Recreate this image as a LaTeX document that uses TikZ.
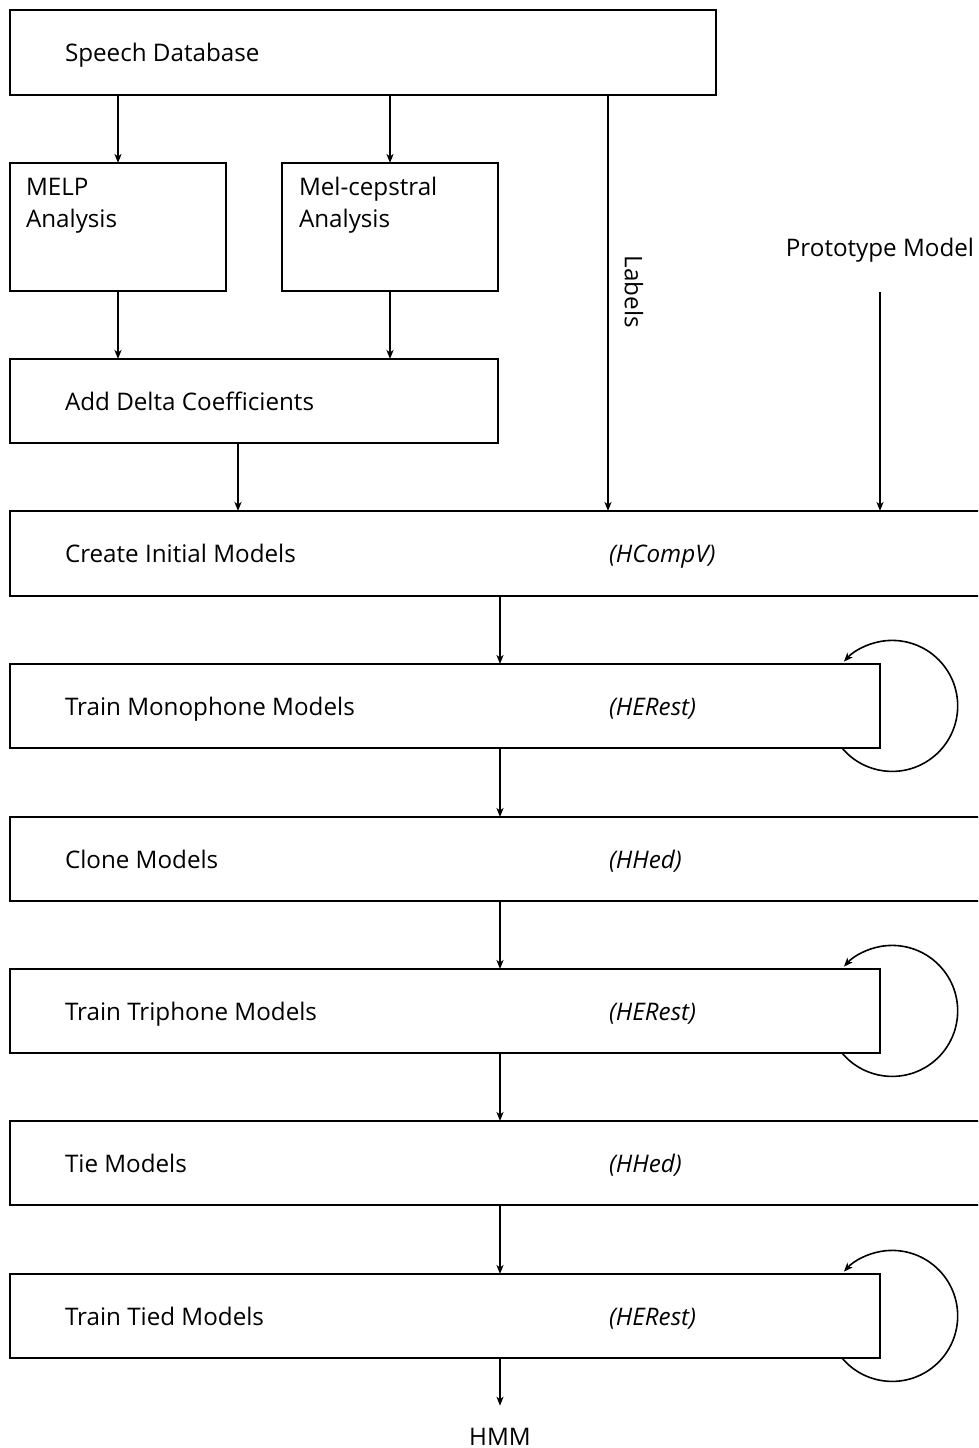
\documentclass[tikz,border=0pt]{standalone}
\usepackage{fontspec}
\setmainfont{Open Sans}
\usetikzlibrary{arrows.meta}
\tikzset{
  box/.style={draw, line width=1.8pt, inner sep=0pt, outer sep=0pt},
  lbl/.style={inner sep=0pt, outer sep=0pt, anchor=base west, font=\fontsize{24.2}{32}\selectfont},
  tool/.style={lbl, font=\fontsize{24.2}{32}\selectfont\itshape},
  arr/.style={line width=1.6pt, -{Stealth[length=9pt, width=7pt, inset=2.5pt]}},
  loop/.style={line width=1.6pt, -{Stealth[length=9pt, width=7pt, inset=2.5pt]}}
}
\begin{document}
\begin{tikzpicture}[x=1pt, y=1pt]
\clip (0,0) rectangle (978,-1448);
\fill[white] (0,0) rectangle (978,-1448);

% boxes
\node[box, minimum width=706pt, minimum height=85pt] (db) at (363,-52.5) {};
\node[box, minimum width=216pt, minimum height=128pt] (melp) at (118,-227) {};
\node[box, minimum width=216pt, minimum height=128pt] (mel) at (390,-227) {};
\node[box, minimum width=488pt, minimum height=84pt] (delta) at (254,-401) {};
\node[box, minimum width=990pt, minimum height=85pt] (init) at (505,-553.5) {};
\node[box, minimum width=870pt, minimum height=84pt] (mono) at (445,-706) {};
\node[box, minimum width=990pt, minimum height=84pt] (clone) at (505,-859) {};
\node[box, minimum width=870pt, minimum height=84pt] (tri) at (445,-1011) {};
\node[box, minimum width=990pt, minimum height=84pt] (tie) at (505,-1163) {};
\node[box, minimum width=870pt, minimum height=84pt] (tied) at (445,-1316) {};

% texts
\node[lbl] (dbt) at (65,-61) {Speech Database};
\node[lbl, align=left] (melpt) at (26,-227) {MELP\\Analysis};
\node[lbl, align=left] (melt) at (299,-227) {Mel-cepstral\\Analysis};
\node[lbl] (deltat) at (65,-410) {Add Delta Coefficients};
\node[lbl] (initt) at (65,-562) {Create Initial Models};
\node[tool] (inith) at (609,-562) {(HCompV)};
\node[lbl] (monot) at (65,-715) {Train Monophone Models};
\node[tool] (monoh) at (609,-715) {(HERest)};
\node[lbl] (clonet) at (65,-868) {Clone Models};
\node[tool] (cloneh) at (609,-868) {(HHed)};
\node[lbl] (trit) at (65,-1020) {Train Triphone Models};
\node[tool] (trih) at (609,-1020) {(HERest)};
\node[lbl] (tiet) at (65,-1172) {Tie Models};
\node[tool] (tieh) at (609,-1172) {(HHed)};
\node[lbl] (tiedt) at (65,-1325) {Train Tied Models};
\node[tool] (tiedh) at (609,-1325) {(HERest)};
\node[lbl, anchor=base] (proto) at (880,-256) {Prototype Model};
\node[lbl, anchor=center, rotate=-90] (labels) at (634,-292) {Labels};
\node[lbl, anchor=base] (hmm) at (500,-1445) {HMM};

% helper coordinates
\coordinate (lx) at (608,0);
\coordinate (px) at (880,-292);
\coordinate (dx) at (238,0);
\coordinate (cx) at (500,0);

% arrows
\draw[arr] (db.south -| melp.north) -- (melp.north);
\draw[arr] (db.south -| mel.north) -- (mel.north);
\draw[arr] (db.south -| lx) -- (init.north -| lx);
\draw[arr] (px) -- (init.north -| px);
\draw[arr] (melp.south) -- (delta.north -| melp.south);
\draw[arr] (mel.south) -- (delta.north -| mel.south);
\draw[arr] (delta.south -| dx) -- (init.north -| dx);
\draw[arr] (init.south -| cx) -- (mono.north -| cx);
\draw[arr] (mono.south -| cx) -- (clone.north -| cx);
\draw[arr] (clone.south -| cx) -- (tri.north -| cx);
\draw[arr] (tri.south -| cx) -- (tie.north -| cx);
\draw[arr] (tie.south -| cx) -- (tied.north -| cx);
\draw[arr] (tied.south -| cx) -- ([yshift=22pt]hmm.north);

% loops
\draw[loop] ([xshift=-38pt]mono.south east) arc[start angle=-140, end angle=137.5, radius=65.5];
\draw[loop] ([xshift=-38pt]tri.south east) arc[start angle=-140, end angle=137.5, radius=65.5];
\draw[loop] ([xshift=-38pt]tied.south east) arc[start angle=-140, end angle=137.5, radius=65.5];
\end{tikzpicture}
\end{document}
